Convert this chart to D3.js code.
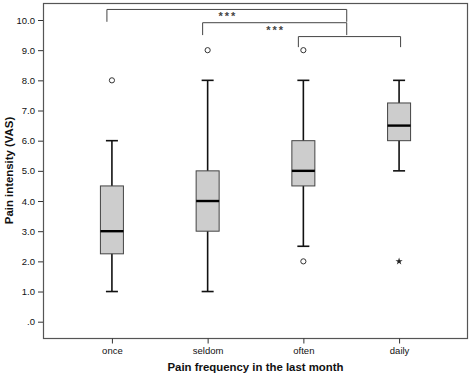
<!DOCTYPE html>
<html lang="en">
<head>
  <meta charset="UTF-8">
  <title>Pain intensity by pain frequency</title>
  <script src="https://d3js.org/d3.v7.min.js"></script>
  <style>
    body { margin: 0; background: #fff; font-family: "Liberation Sans", Arial, sans-serif; }
    .tick text { font-size: 9.5px; fill: #111; }
    .title { font-size: 11.4px; font-weight: bold; fill: #111; }
  </style>
</head>
<body>
<div id="chart"></div>
<script>
const categories = ["once", "seldom", "often", "daily"];
const whiskerLow = [1, 1, 2.5, 5];
const q1 = [2.25, 3, 4.5, 6];
const medians = [3, 4, 5, 6.5];
const q3 = [4.5, 5, 6, 7.25];
const whiskerHigh = [6, 8, 8, 8];
// outliers: [category, value, kind]
const outliers = [
  ["once", 8, "circle"],
  ["seldom", 9, "circle"],
  ["often", 9, "circle"],
  ["often", 2, "circle"],
  ["daily", 2, "star"]
];
const yTicks = [0, 1, 2, 3, 4, 5, 6, 7, 8, 9, 10];
// significance brackets: from, to (to "often|daily" = middle of that pair), line level, leg bottom
const brackets = [
  { from: "once", to: "often|daily", y: 10.35, leg: 9.94, label: "***" },
  { from: "seldom", to: "often|daily", y: 9.91, leg: 9.5, label: "***" },
  { from: "often", to: "daily", y: 9.45, leg: 9.1, label: "" }
];

const width = 472, height = 375;
const margin = { top: 3, right: 4, bottom: 37, left: 43 };

const svg = d3.select("#chart").append("svg")
  .attr("width", width)
  .attr("height", height);

const x = d3.scalePoint()
  .domain(categories)
  .range([margin.left, width - margin.right])
  .padding(0.72);

const y = d3.scaleLinear()
  .domain([0, 10])
  .range([321.7, 20]);

const plotBottom = height - margin.bottom;

// frame
svg.append("rect")
  .attr("x", margin.left + 0.5)
  .attr("y", margin.top + 0.5)
  .attr("width", width - margin.left - margin.right - 1)
  .attr("height", plotBottom - margin.top)
  .attr("fill", "none")
  .attr("stroke", "#555")
  .attr("stroke-width", 1.2);

// axes
const yAxis = svg.append("g")
  .attr("transform", `translate(${margin.left},0)`)
  .call(d3.axisLeft(y).tickValues(yTicks).tickSize(5).tickPadding(3)
    .tickFormat(d => d === 0 ? ".0" : d3.format(".1f")(d)));
yAxis.select(".domain").remove();
yAxis.selectAll(".tick line").attr("stroke", "#333");

const xAxis = svg.append("g")
  .attr("transform", `translate(0,${plotBottom + 0.5})`)
  .call(d3.axisBottom(x).tickSize(5).tickPadding(4));
xAxis.select(".domain").remove();
xAxis.selectAll(".tick line").attr("stroke", "#333");

// boxes
const boxW = 23, capW = 12;
const boxes = svg.append("g").selectAll("g")
  .data(categories)
  .join("g");

boxes.append("line")
  .attr("x1", d => x(d)).attr("x2", d => x(d))
  .attr("y1", (d, i) => y(whiskerLow[i])).attr("y2", (d, i) => y(whiskerHigh[i]))
  .attr("stroke", "#111").attr("stroke-width", 1.6);

boxes.selectAll(".cap")
  .data((d, i) => [[d, whiskerLow[i]], [d, whiskerHigh[i]]])
  .join("line")
  .attr("x1", d => x(d[0]) - capW / 2).attr("x2", d => x(d[0]) + capW / 2)
  .attr("y1", d => y(d[1])).attr("y2", d => y(d[1]))
  .attr("stroke", "#111").attr("stroke-width", 1.6);

boxes.append("rect")
  .attr("x", d => x(d) - boxW / 2)
  .attr("width", boxW)
  .attr("y", (d, i) => y(q3[i]))
  .attr("height", (d, i) => y(q1[i]) - y(q3[i]))
  .attr("fill", "#cdcdcd")
  .attr("stroke", "#444")
  .attr("stroke-width", 1);

boxes.append("line")
  .attr("x1", d => x(d) - boxW / 2).attr("x2", d => x(d) + boxW / 2)
  .attr("y1", (d, i) => y(medians[i])).attr("y2", (d, i) => y(medians[i]))
  .attr("stroke", "#000").attr("stroke-width", 2.4);

// outliers
svg.append("g").selectAll("circle")
  .data(outliers.filter(d => d[2] === "circle"))
  .join("circle")
  .attr("cx", d => x(d[0]))
  .attr("cy", d => y(d[1]))
  .attr("r", 2.6)
  .attr("fill", "#fff")
  .attr("stroke", "#333")
  .attr("stroke-width", 1);

svg.append("g").selectAll("path")
  .data(outliers.filter(d => d[2] === "star"))
  .join("path")
  .attr("transform", d => `translate(${x(d[0])},${y(d[1])})`)
  .attr("d", d3.symbol(d3.symbolStar, 16))
  .attr("fill", "#222");

// brackets
const bx = key => {
  const parts = key.split("|");
  return d3.mean(parts, p => x(p)) + (parts.length > 1 ? -4.5 : 1.5);
};
const br = svg.append("g");
brackets.forEach(b => {
  const x1 = x(b.from) - 5, x2 = bx(b.to);
  br.append("path")
    .attr("d", `M${x1},${y(b.leg)}V${y(b.y)}H${x2}V${y(b.leg)}`)
    .attr("fill", "none")
    .attr("stroke", "#444")
    .attr("stroke-width", 1);
  if (b.label) {
    br.append("text")
      .attr("x", (x1 + x2) / 2 + 1)
      .attr("y", y(b.y) + 11)
      .attr("text-anchor", "middle")
      .attr("font-size", 11)
      .attr("font-weight", "bold")
      .attr("letter-spacing", 2)
      .attr("fill", "#444")
      .text(b.label);
  }
});

// titles
svg.append("text")
  .attr("class", "title")
  .attr("x", (margin.left + width - margin.right) / 2)
  .attr("y", 371)
  .attr("text-anchor", "middle")
  .text("Pain frequency in the last month");

svg.append("text")
  .attr("class", "title")
  .attr("transform", `translate(13,${(margin.top + plotBottom) / 2}) rotate(-90)`)
  .attr("text-anchor", "middle")
  .text("Pain intensity (VAS)");
</script>
</body>
</html>
